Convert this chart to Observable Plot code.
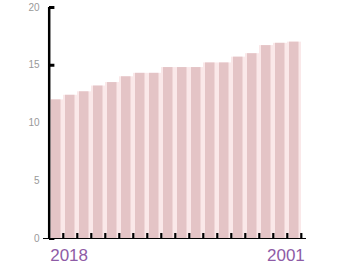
<!DOCTYPE html>
<html>
<head>
<meta charset="utf-8">
<script src="https://cdn.jsdelivr.net/npm/d3@7"></script>
<script src="https://cdn.jsdelivr.net/npm/@observablehq/plot@0.6"></script>
<style>
  html, body { margin: 0; padding: 0; background: #fff; }
</style>
</head>
<body>
<div id="chart"></div>
<script>
const years = ["2018","2017","2016","2015","2014","2013","2012","2011","2010","2009","2008","2007","2006","2005","2004","2003","2002","2001"];
const values = [12.0, 12.4, 12.7, 13.2, 13.5, 14.0, 14.3, 14.3, 14.8, 14.8, 14.8, 15.2, 15.2, 15.7, 16.0, 16.7, 16.9, 17.0];
const yTicks = [0, 5, 10, 15, 20];
const xLabelFirst = [years[0]];
const xLabelLast = [years[years.length - 1]];

const data = years.map((y, i) => ({year: y, value: values[i]}));

const W = 357, H = 266, mL = 43, mR = 51, mT = 7, mB = 28;
const step = (W - mL - mR) / years.length;

const chart = Plot.plot({
  width: W,
  height: H,
  marginLeft: mL,
  marginRight: mR,
  marginTop: mT,
  marginBottom: mB,
  style: {fontFamily: "Liberation Sans, Arial, sans-serif", background: "#fff"},
  x: {domain: years, padding: 0, axis: null},
  y: {domain: [0, 20], axis: null},
  marks: [
    Plot.axisY({ticks: yTicks, label: null, tickSize: 0, tickPadding: 4, fill: "#999", fontSize: 10}),
    Plot.tickY(yTicks, {y: d => d, x: () => years[0], insetRight: step - 6, stroke: "#000", strokeWidth: 3}),
    Plot.barY(data, {x: "year", y: "value", fill: "#fae8e9"}),
    Plot.barY(data, {x: "year", y: "value", fill: "#e4c4c6", insetLeft: 2, insetRight: 2.5}),
    Plot.ruleX([0], {x: () => years[0], dx: -step / 2, y1: 0, y2: 20, stroke: "#000", strokeWidth: 2.5}),
    Plot.ruleY([0], {stroke: "#000", strokeWidth: 1.2}),
    Plot.tickX(years, {x: d => d, dx: step / 2 - 0.5, insetTop: H - mT - mB - 5, stroke: "#000", strokeWidth: 2.2}),
    Plot.text(xLabelFirst, {x: d => d, y: 0, dx: -step / 2 + 1, dy: 17, text: d => d, textAnchor: "start", fill: "#8e5ba6", fontSize: 17}),
    Plot.text(xLabelLast, {x: d => d, y: 0, dx: step / 2 + 3, dy: 17, text: d => d, textAnchor: "end", fill: "#8e5ba6", fontSize: 17})
  ]
});
document.getElementById("chart").appendChild(chart);
</script>
</body>
</html>
